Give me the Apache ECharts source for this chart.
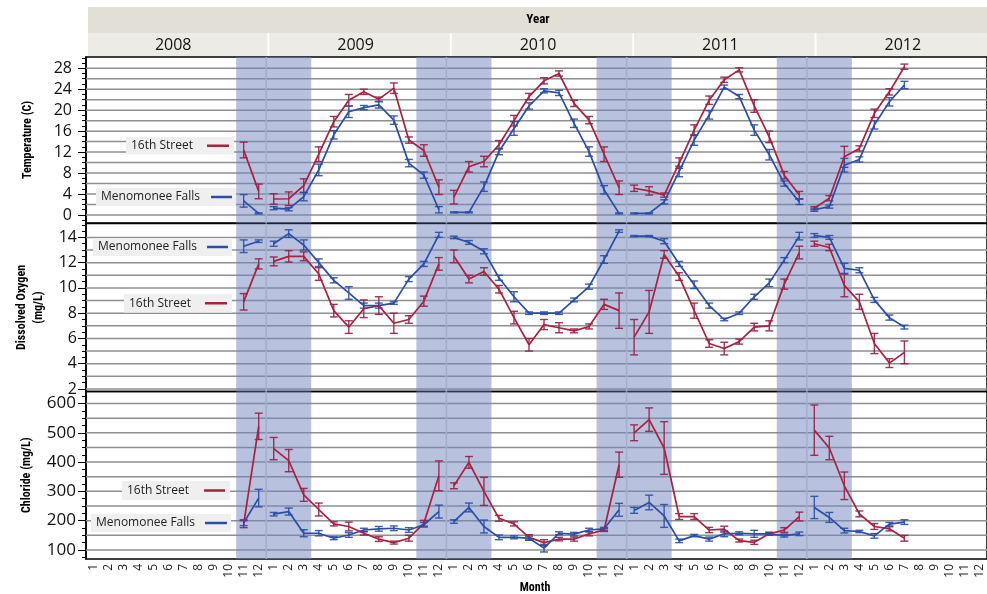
<!DOCTYPE html>
<html>
<head>
<meta charset="utf-8">
<script src="https://cdn.jsdelivr.net/npm/echarts@6/dist/echarts.min.js"></script>
<style>
html,body{margin:0;padding:0;background:#fff;}
#chart{width:987px;height:594px;}
</style>
</head>
<body>
<div id="chart"></div>
<script>
// ---------------- DATA ----------------
const years = ['2008', '2009', '2010', '2011', '2012'];
const monthLabels = ['1','2','3','4','5','6','7','8','9','10','11','12'];
const stations = ['16th Street', 'Menomonee Falls'];
const firstIndex = 10; // first sample: November 2008 (values run Nov 2008 .. Jul 2012)

// Temperature (C)
const tempStreet = [12.4, 4.5,
  3.05, 3.1, 5.6, 11.6, 17.8, 21.9, 23.5, 22.1, 24.2, 14.3, 12.3, 5.3,
  3.4, 9.2, 10.2, 13.4, 18.0, 22.6, 25.6, 27.0, 21.3, 18.1, 11.6, 5.2,
  5.1, 4.6, 3.8, 9.9, 16.2, 21.9, 25.8, 27.7, 20.8, 14.9, 7.6, 3.8,
  1.3, 3.2, 11.1, 12.7, 19.4, 23.5, 28.3];
const tempStreetErr = [1.5, 1.4,
  1.0, 1.3, 1.3, 1.4, 1.0, 1.1, 0.5, 0.4, 1.0, 0.6, 1.1, 1.4,
  1.3, 1.0, 1.0, 0.8, 1.0, 0.6, 0.6, 0.5, 0.6, 0.7, 1.4, 1.3,
  0.6, 0.8, 0.4, 1.0, 1.0, 0.8, 0.5, 0.4, 1.2, 1.1, 0.7, 0.7,
  0.3, 0.5, 2.0, 0.5, 0.8, 0.6, 0.5];
const tempFalls = [2.7, 0.3,
  1.3, 1.1, 3.5, 8.6, 15.3, 19.7, 20.5, 21.0, 18.1, 9.9, 7.6, 1.0,
  0.5, 0.5, 5.4, 12.1, 16.5, 20.8, 23.7, 23.3, 17.5, 12.1, 4.8, 0.3,
  0.3, 0.3, 2.5, 8.3, 14.3, 19.1, 24.4, 22.6, 16.2, 11.5, 6.0, 2.5,
  1.0, 1.6, 9.5, 10.6, 17.2, 21.6, 24.8];
const tempFallsErr = [1.2, 0.1,
  0.3, 0.3, 0.8, 1.1, 0.8, 1.1, 0.4, 0.6, 0.8, 0.7, 0.6, 0.6,
  0.1, 0.1, 0.9, 0.6, 1.3, 0.6, 0.4, 0.5, 0.8, 0.9, 0.8, 0.1,
  0.1, 0.1, 0.4, 1.0, 1.0, 0.8, 0.4, 0.4, 1.0, 1.0, 0.5, 0.5,
  0.3, 0.3, 1.3, 0.5, 0.8, 0.8, 0.7];

// Dissolved Oxygen (mg/L)
const doStreet = [8.9, 11.9,
  12.1, 12.5, 12.5, 11.1, 8.2, 6.9, 8.35, 8.6, 7.2, 7.5, 8.95, 11.9,
  12.5, 10.7, 11.3, 9.9, 7.65, 5.5, 7.1, 6.85, 6.6, 6.95, 8.7, 8.2,
  6.1, 8.1, 12.65, 10.9, 8.2, 5.6, 5.2, 5.75, 6.9, 7.0, 10.3, 12.8,
  13.5, 13.2, 10.2, 8.9, 5.6, 4.05, 4.9];
const doStreetErr = [0.65, 0.4,
  0.35, 0.45, 0.35, 0.5, 0.5, 0.5, 0.7, 0.7, 0.8, 0.3, 0.4, 0.5,
  0.5, 0.3, 0.3, 0.3, 0.5, 0.5, 0.4, 0.4, 0.15, 0.2, 0.4, 1.4,
  1.4, 1.7, 0.3, 0.3, 0.6, 0.3, 0.5, 0.2, 0.3, 0.4, 0.4, 0.5,
  0.2, 0.25, 0.9, 0.6, 0.8, 0.35, 0.9];
const doFalls = [13.3, 13.7,
  13.5, 14.3, 13.4, 12.0, 10.6, 9.6, 8.6, 8.6, 8.8, 10.7, 11.9, 14.2,
  14.0, 13.6, 12.9, 10.8, 9.3, 8.0, 8.0, 8.0, 9.05, 10.1, 12.25, 14.5,
  14.1, 14.1, 13.7, 11.9, 10.25, 8.6, 7.5, 8.0, 9.3, 10.4, 12.2, 14.1,
  14.15, 14.0, 11.55, 11.4, 9.05, 7.65, 6.9];
const doFallsErr = [0.5, 0.1,
  0.2, 0.3, 0.4, 0.3, 0.2, 0.5, 0.2, 0.2, 0.1, 0.2, 0.2, 0.2,
  0.1, 0.15, 0.2, 0.2, 0.4, 0.1, 0.1, 0.1, 0.15, 0.2, 0.3, 0.1,
  0.05, 0.05, 0.2, 0.2, 0.3, 0.2, 0.1, 0.1, 0.2, 0.3, 0.2, 0.3,
  0.15, 0.15, 0.4, 0.2, 0.2, 0.2, 0.15];

// Chloride (mg/L)
const clStreet = [188, 522,
  446, 405, 288, 238, 189, 180, 157, 137, 125, 140, 191, 353,
  319, 399, 300, 208, 189, 143, 125, 137, 137, 155, 168, 391,
  500, 545, 448, 214, 214, 168, 171, 132, 126, 155, 168, 214,
  509, 448, 319, 223, 180, 172, 140];
const clStreetErr = [12, 45,
  38, 38, 22, 22, 7, 15, 6, 8, 5, 10, 10, 51,
  10, 20, 48, 10, 7, 9, 10, 6, 7, 7, 5, 43,
  27, 40, 90, 10, 10, 9, 10, 5, 7, 5, 8, 15,
  86, 40, 47, 10, 10, 7, 10];
const clFalls = [193, 277,
  222, 231, 157, 157, 140, 151, 168, 172, 174, 168, 186, 231,
  197, 245, 180, 143, 143, 140, 106, 157, 154, 168, 172, 237,
  235, 262, 216, 131, 149, 137, 155, 157, 155, 155, 149, 155,
  245, 211, 166, 163, 148, 188, 195];
const clFallsErr = [10, 30,
  6, 12, 12, 9, 5, 8, 6, 8, 8, 8, 8, 22,
  6, 15, 22, 8, 5, 7, 13, 5, 6, 6, 5, 22,
  10, 25, 39, 6, 4, 7, 10, 5, 12, 5, 5, 6,
  38, 17, 8, 4, 8, 6, 8];

// Axis ticks / gridlines
const tempLabels = [0, 4, 8, 12, 16, 20, 24, 28];
const tempMinor = [-1, 0, 1, 2, 3, 4, 5, 6, 7, 8, 9, 10, 11, 12, 13, 14, 15, 16, 17, 18, 19, 20, 21, 22, 23, 24, 25, 26, 27, 28, 29, 30];
const tempGrid = [0, 2, 4, 6, 8, 10, 12, 14, 16, 18, 20, 22, 24, 26, 28];
const doLabels = [2, 4, 6, 8, 10, 12, 14];
const doMinor = [2, 2.5, 3, 3.5, 4, 4.5, 5, 5.5, 6, 6.5, 7, 7.5, 8, 8.5, 9, 9.5, 10, 10.5, 11, 11.5, 12, 12.5, 13, 13.5, 14, 14.5, 15];
const doGrid = [2, 3, 4, 5, 6, 7, 8, 9, 10, 11, 12, 13, 14];
const clLabels = [100, 200, 300, 400, 500, 600];
const clMinor = [75, 100, 125, 150, 175, 200, 225, 250, 275, 300, 325, 350, 375, 400, 425, 450, 475, 500, 525, 550, 575, 600, 625];
const clGrid = [100, 150, 200, 250, 300, 350, 400, 450, 500, 550, 600];

// Shaded winter spans (Nov–Mar), in month slots from Jan 2008
const winterSpans = [[10, 15], [22, 27], [34, 39], [46, 51]];
const yearBreaks = [12, 24, 36, 48];

// ---------------- LAYOUT / STYLE ----------------
const FONT = "'Open Sans', 'Noto Sans', sans-serif";
const FONT_B = "'Liberation Sans Narrow', 'Roboto Condensed', 'DejaVu Sans Condensed', 'Noto Sans', sans-serif";
const colors = ['#a8213f', '#2a4ea6'];
const errColors = ['rgba(150,30,70,0.9)', 'rgba(40,78,166,0.9)'];
const G_LEFT = 86, G_WIDTH = 912;
const grids = [
  {left: G_LEFT, width: G_WIDTH, top: 57, height: 166},
  {left: G_LEFT, width: G_WIDTH, top: 223.5, height: 168},
  {left: G_LEFT, width: G_WIDTH, top: 391.5, height: 167.5}
];

const panels = [
  {name: 'Temperature (C)', nameGap: 50, min: -1.53, max: 30.15,
   means: [tempStreet, tempFalls], errs: [tempStreetErr, tempFallsErr],
   labels: tempLabels, minor: tempMinor, grid: tempGrid, labelSize: 16, labelMargin: 14},
  {name: 'Dissolved Oxygen\n(mg/L)', nameGap: 38, min: 1.8, max: 15.1,
   means: [doStreet, doFalls], errs: [doStreetErr, doFallsErr],
   labels: doLabels, minor: doMinor, grid: doGrid, labelSize: 16, labelMargin: 9},
  {name: 'Chloride (mg/L)', nameGap: 50, min: 69, max: 641,
   means: [clStreet, clFalls], errs: [clStreetErr, clFallsErr],
   labels: clLabels, minor: clMinor, grid: clGrid, labelSize: 17, labelMargin: 10}
];

const legendBoxes = [
  [{s: 0, x: 126, y: 137, w: 108, h: 17.5, l1: 207, l2: 229},
   {s: 1, x: 96, y: 188, w: 140, h: 18, l1: 211, l2: 232}],
  [{s: 1, x: 93, y: 238, w: 139, h: 18, l1: 207, l2: 228},
   {s: 0, x: 124, y: 294, w: 108, h: 18.5, l1: 205, l2: 227}],
  [{s: 0, x: 122, y: 481, w: 108, h: 19, l1: 204, l2: 225},
   {s: 1, x: 91, y: 514, w: 140, h: 18, l1: 205, l2: 227}]
];

// ---------------- BUILD ----------------
const monthCats = [];
years.forEach(y => monthLabels.forEach(m => monthCats.push(m)));
const N = monthCats.length;

function pad(arr) {
  const out = new Array(N).fill(null);
  arr.forEach((v, i) => { out[firstIndex + i] = v; });
  return out;
}
function yearOnly(full, yi) {
  return full.map((v, i) => (Math.floor(i / 12) === yi ? v : null));
}

const xAxes = [], yAxes = [], series = [];

panels.forEach((p, pi) => {
  xAxes.push({
    gridIndex: pi, type: 'category', data: monthCats, boundaryGap: true,
    show: pi === 2,
    axisLine: {show: false}, axisTick: {show: false},
    axisLabel: {interval: 0, rotate: 90, fontSize: 12, margin: 5, color: '#222', fontFamily: FONT},
    splitLine: {show: false}
  });
  xAxes.push({gridIndex: pi, type: 'value', min: 0, max: N, show: false});

  yAxes.push({
    gridIndex: pi, type: 'value', min: p.min, max: p.max, position: 'left',
    axisLine: {show: true, lineStyle: {color: '#000', width: 1.5}},
    axisTick: {show: true, length: 8, customValues: p.labels, lineStyle: {color: '#000', width: 1}},
    axisLabel: {customValues: p.labels, fontSize: p.labelSize, margin: p.labelMargin, color: '#111', fontFamily: FONT},
    splitLine: {show: false},
    name: p.name, nameLocation: 'middle', nameGap: p.nameGap, nameRotate: 90,
    nameTextStyle: {fontFamily: FONT_B, fontWeight: 'bold', fontSize: 12, color: '#000', lineHeight: 17}
  });
  yAxes.push({
    gridIndex: pi, type: 'value', min: p.min, max: p.max, position: 'left', offset: 0,
    axisLine: {show: false},
    axisTick: {show: true, length: 4, customValues: p.minor, lineStyle: {color: '#000', width: 1}},
    axisLabel: {show: false}, splitLine: {show: false}
  });

  const xC = pi * 2, xV = pi * 2 + 1, yA = pi * 2;

  // gridlines
  series.push({
    type: 'custom', xAxisIndex: xV, yAxisIndex: yA, z: 1, silent: true, animation: false,
    data: p.grid.map(v => [0, v]),
    renderItem: (params, api) => {
      const cs = params.coordSys;
      const y = api.coord([0, api.value(1)])[1];
      return {type: 'line', shape: {x1: cs.x, y1: y, x2: cs.x + cs.width, y2: y},
              style: {stroke: '#8f8f8f', lineWidth: 1.5}};
    }
  });
  // winter shading
  series.push({
    type: 'custom', xAxisIndex: xV, yAxisIndex: yA, z: 2, silent: true, animation: false,
    data: winterSpans,
    renderItem: (params, api) => {
      const cs = params.coordSys;
      const x0 = api.coord([api.value(0), p.min])[0];
      const x1 = api.coord([api.value(1), p.min])[0];
      return {type: 'rect', shape: {x: x0, y: cs.y, width: x1 - x0, height: cs.height},
              style: {fill: 'rgba(113,133,189,0.5)'}};
    }
  });
  // year dividers
  series.push({
    type: 'custom', xAxisIndex: xV, yAxisIndex: yA, z: 3, silent: true, animation: false,
    data: yearBreaks.map(v => [v, p.min]),
    renderItem: (params, api) => {
      const cs = params.coordSys;
      const x = api.coord([api.value(0), p.min])[0];
      return {type: 'line', shape: {x1: x, y1: cs.y, x2: x, y2: cs.y + cs.height},
              style: {stroke: '#a4aecb', lineWidth: 1.5}};
    }
  });

  [0, 1].forEach(si => {
    const mean = p.means[si], err = p.errs[si];
    // error bars
    series.push({
      type: 'custom', xAxisIndex: xC, yAxisIndex: yA, z: 4, silent: true, animation: false,
      encode: {x: 0, y: [1, 2]},
      data: mean.map((v, i) => [firstIndex + i, v - err[i], v + err[i]]),
      renderItem: (params, api) => {
        const lo = api.coord([api.value(0), api.value(1)]);
        const hi = api.coord([api.value(0), api.value(2)]);
        const w = 4, st = {stroke: errColors[si], lineWidth: 1.4};
        return {type: 'group', children: [
          {type: 'line', shape: {x1: lo[0], y1: lo[1], x2: hi[0], y2: hi[1]}, style: st},
          {type: 'line', shape: {x1: lo[0] - w, y1: lo[1], x2: lo[0] + w, y2: lo[1]}, style: st},
          {type: 'line', shape: {x1: hi[0] - w, y1: hi[1], x2: hi[0] + w, y2: hi[1]}, style: st}
        ]};
      }
    });
    // mean lines, broken at each year panel
    const full = pad(mean);
    years.forEach((y, yi) => {
      series.push({
        type: 'line', name: stations[si], xAxisIndex: xC, yAxisIndex: yA, z: 5,
        silent: true, animation: false, symbol: 'none', showSymbol: false, connectNulls: false,
        lineStyle: {color: colors[si], width: 1.7},
        data: yearOnly(full, yi)
      });
    });
  });
});

// ---------------- GRAPHIC (header + labels) ----------------
const graphic = [];
const yearW = G_WIDTH / years.length;
graphic.push({type: 'rect', silent: true, shape: {x: 88, y: 7, width: 899, height: 26}, style: {fill: '#e1dfd6'}});
graphic.push({type: 'text', silent: true, style: {text: 'Year', x: 538, y: 20, align: 'center', verticalAlign: 'middle',
  textAlign: 'center', textVerticalAlign: 'middle', font: "bold 13px " + FONT_B, fill: '#000'}});
years.forEach((y, yi) => {
  const b0 = G_LEFT + yi * yearW, b1 = b0 + yearW;
  const x0 = Math.max(88, b0 + 1), x1 = Math.min(987, b1 - 1);
  graphic.push({type: 'rect', silent: true, shape: {x: x0, y: 33, width: x1 - x0, height: 23}, style: {fill: '#ecebe5'}});
  graphic.push({type: 'text', silent: true, style: {text: y, x: (b0 + b1) / 2 - 4, y: 45, align: 'center', verticalAlign: 'middle',
    textAlign: 'center', textVerticalAlign: 'middle', font: "16px " + FONT, fill: '#111'}});
});
graphic.push({type: 'text', silent: true, style: {text: 'Month', x: 535, y: 588, align: 'center', verticalAlign: 'middle',
  textAlign: 'center', textVerticalAlign: 'middle', font: "bold 12px " + FONT_B, fill: '#000'}});

legendBoxes.forEach(boxes => boxes.forEach(b => {
  graphic.push({type: 'rect', silent: true, z: 100, shape: {x: b.x, y: b.y, width: b.w, height: b.h}, style: {fill: '#efefef'}});
  graphic.push({type: 'text', silent: true, z: 101, style: {text: stations[b.s], x: b.x + 5, y: b.y + b.h / 2,
    align: 'left', verticalAlign: 'middle', textAlign: 'left', textVerticalAlign: 'middle', font: "12px " + FONT, fill: '#222'}});
  graphic.push({type: 'line', silent: true, z: 101, shape: {x1: b.l1, y1: b.y + b.h / 2, x2: b.l2, y2: b.y + b.h / 2},
    style: {stroke: colors[b.s], lineWidth: 2.5}});
}));

const chart = echarts.init(document.getElementById('chart'), null, {renderer: 'canvas'});
chart.setOption({
  animation: false,
  backgroundColor: '#fff',
  grid: grids.map(g => Object.assign({show: true, borderColor: '#000', borderWidth: 1.5, containLabel: false}, g)),
  xAxis: xAxes,
  yAxis: yAxes,
  series: series,
  graphic: graphic
});
</script>
</body>
</html>
